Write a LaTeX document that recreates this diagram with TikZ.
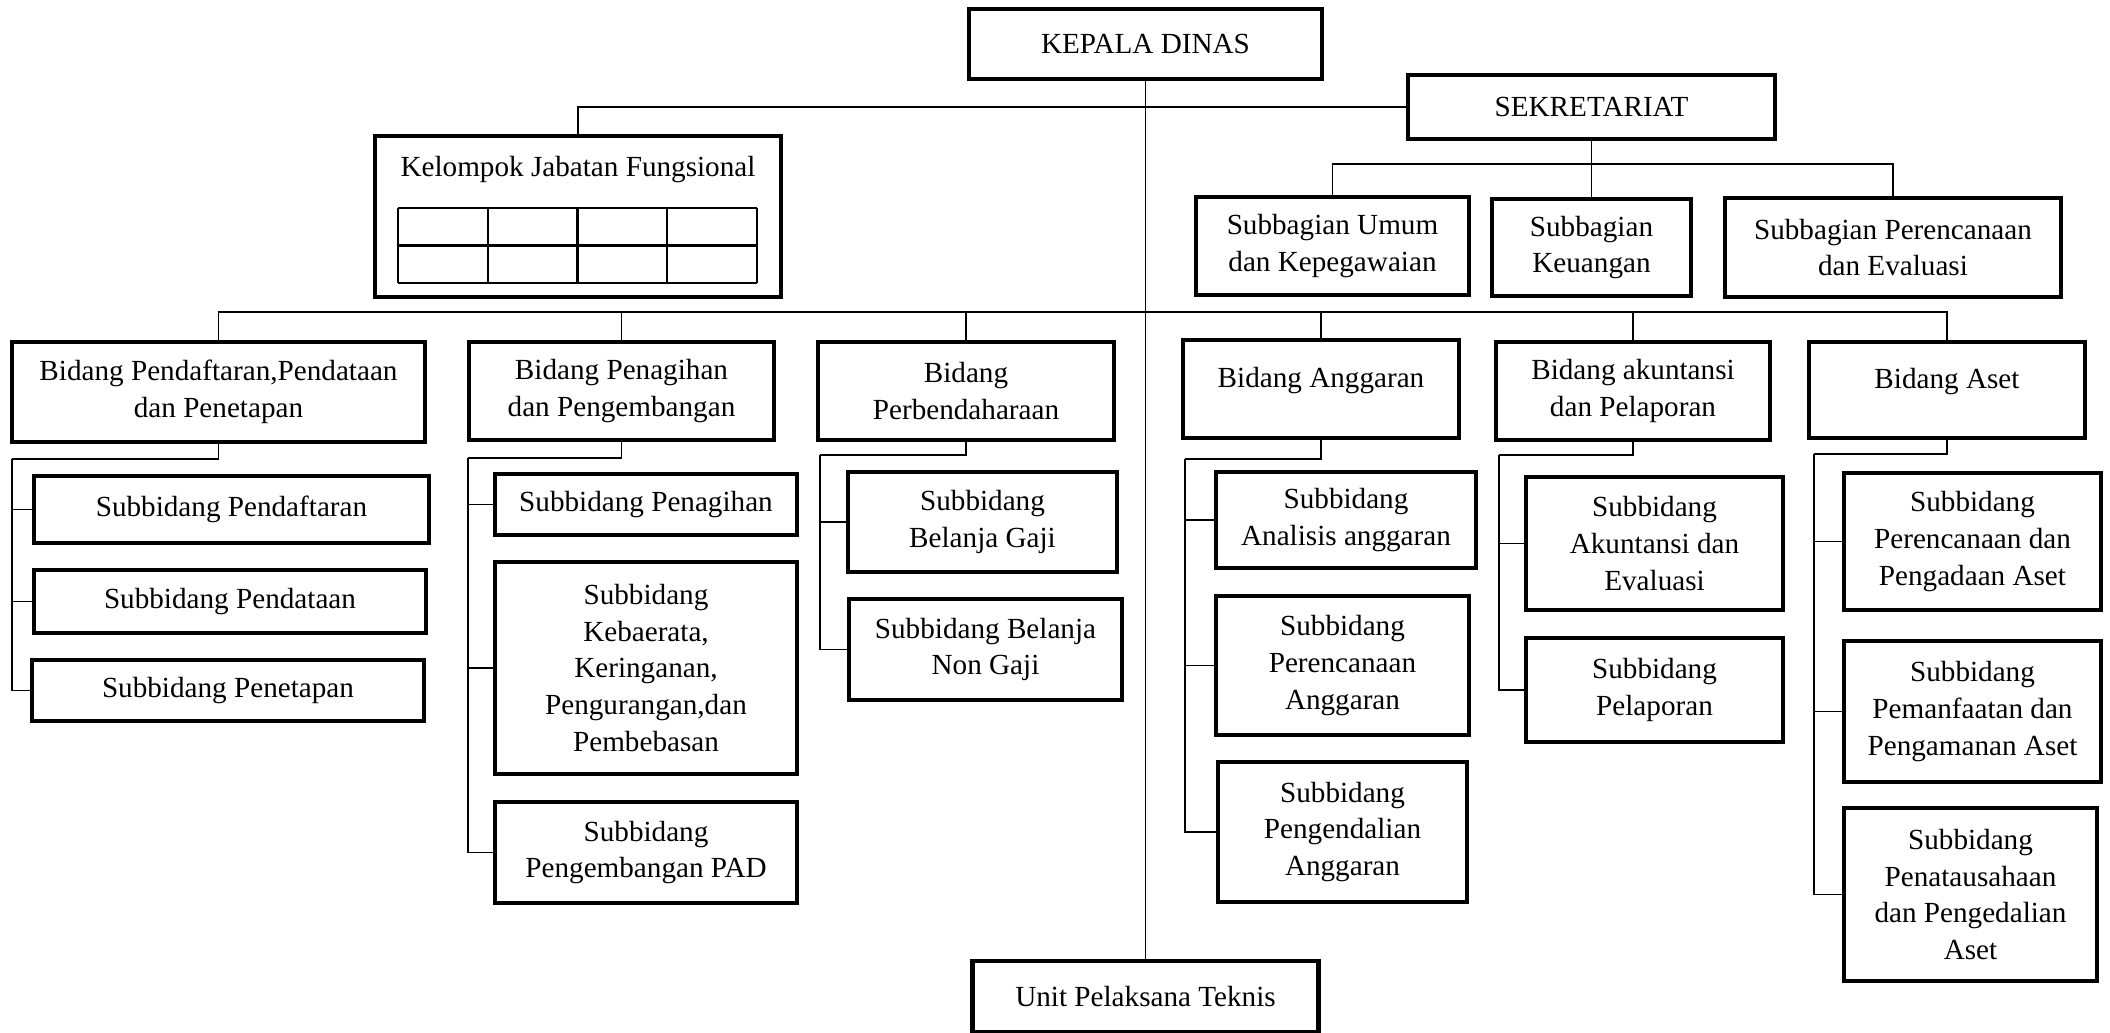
\documentclass[tikz,border=0pt]{standalone}
\usepackage{fontspec}
\setmainfont{Liberation Serif}
\tikzstyle{unit}=[draw,line width=1.4pt,inner sep=1pt,align=center,font=\fontsize{8.3}{10.5}\selectfont]
\tikzstyle{caption}=[inner sep=0pt,font=\fontsize{8.3}{10.5}\selectfont]
\tikzstyle{link}=[draw,line width=0.45pt]
\tikzstyle{cell}=[draw,line width=0.7pt]

\begin{document}
\begin{tikzpicture}[x=0.1mm,y=-0.1mm]
\useasboundingbox (0,0) rectangle (2110,1033);
% boxes: name/x/y/width/height/text
\foreach \name/\x/\y/\w/\h/\txt in {
  {kadis/1145.5/44/353/70/KEPALA DINAS},
  {sekr/1591.5/107/367/64/SEKRETARIAT},
  {kjf/578/216.5/406/161/},
  {sumum/1332.5/246/273/98/Subbagian Umum\\dan Kepegawaian},
  {skeu/1591.5/247.5/199/97/Subbagian\\Keuangan},
  {sren/1893/247.5/336/99/Subbagian Perencanaan\\dan Evaluasi},
  {bdaf/218.5/392/413/100/Bidang Pendaftaran,Pendataan\\dan Penetapan},
  {btag/621.5/391/305/98/Bidang Penagihan\\dan Pengembangan},
  {bben/966/391/296/98/Bidang\\Perbendaharaan},
  {bang/1321/389/276/98/Bidang Anggaran\\[-4pt]\mbox{}},
  {bakt/1633/391/274/98/Bidang akuntansi\\dan Pelaporan},
  {baset/1947/390/276/96/Bidang Aset\\[-4pt]\mbox{}},
  {sdaf/231.5/509.5/395/67/Subbidang Pendaftaran},
  {sdat/230/601.5/392/63/Subbidang Pendataan},
  {stap/228/690.5/392/61/Subbidang Penetapan},
  {stag/646/504.5/302/61/Subbidang Penagihan},
  {skeb/646/668/302/212/Subbidang\\Kebaerata,\\Keringanan,\\Pengurangan,dan\\Pembebasan},
  {spad/646/852.5/302/101/Subbidang\\Pengembangan PAD},
  {sgaji/982.5/522/269/100/Subbidang\\Belanja Gaji},
  {snon/985.5/649.5/273/101/Subbidang Belanja\\Non Gaji},
  {sana/1346/520/260/96/Subbidang\\Analisis anggaran},
  {srang/1342.5/665.5/253/139/Subbidang\\Perencanaan\\Anggaran},
  {sdal/1342.5/832/249/140/Subbidang\\Pengendalian\\Anggaran},
  {saev/1654.5/543.5/257/133/Subbidang\\Akuntansi dan\\Evaluasi},
  {slap/1654.5/690/257/104/Subbidang\\Pelaporan},
  {spga/1972.5/541.5/257/137/Subbidang\\Perencanaan dan\\Pengadaan Aset},
  {spam/1972.5/711.5/257/141/Subbidang\\Pemanfaatan dan\\Pengamanan Aset},
  {spen/1970.5/894.5/253/173/Subbidang\\Penatausahaan\\dan Pengedalian\\Aset},
  {upt/1145.5/996.5/346/71/Unit Pelaksana Teknis}}{
  \node[unit,minimum width=\w*0.1mm,minimum height=\h*0.1mm] (\name) at (\x,\y) {\txt};
}
\node[caption] (kjf-t) at (578,170) {Kelompok Jabatan Fungsional};
% grid inside the functional group box
\foreach \i in {0,...,4}
  \draw[cell] (398+\i*89.75,208) -- (398+\i*89.75,283);
\foreach \j in {0,1,2}
  \draw[cell] (398,208+\j*37.5) -- (757,208+\j*37.5);

% top level
\path[link] (kadis.south) -- (upt.north);
\path[link] (sekr.west) -| (kjf.north);
\coordinate (sekr-bus) at (1591.5,164);
\path[link] (sekr.south) -- (skeu.north);
\path[link] (sumum.north) |- (sekr-bus) -| (sren.north);
\coordinate (bus) at (1145.5,312);
\path[link] (bdaf.north) |- (bus) -| (baset.north);
\foreach \b in {btag,bben,bang,bakt}
  \path[link] (\b.north) -- (\b.north |- bus);

% bidang to subbidang
\foreach \b/\x/\y/\kids in {
  {bdaf/12/459/{sdaf,sdat,stap}},
  {btag/468/458/{stag,skeb,spad}},
  {bben/820/455/{sgaji,snon}},
  {bang/1185/459/{sana,srang,sdal}},
  {bakt/1499/455/{saev,slap}},
  {baset/1814/454/{spga,spam,spen}}}{
  \coordinate (\b-k) at (\x,\y);
  \path[link] (\b.south) |- (\b-k);
  \foreach \c in \kids
    \path[link] (\b-k) |- (\c.west);
}
\end{tikzpicture}
\end{document}
